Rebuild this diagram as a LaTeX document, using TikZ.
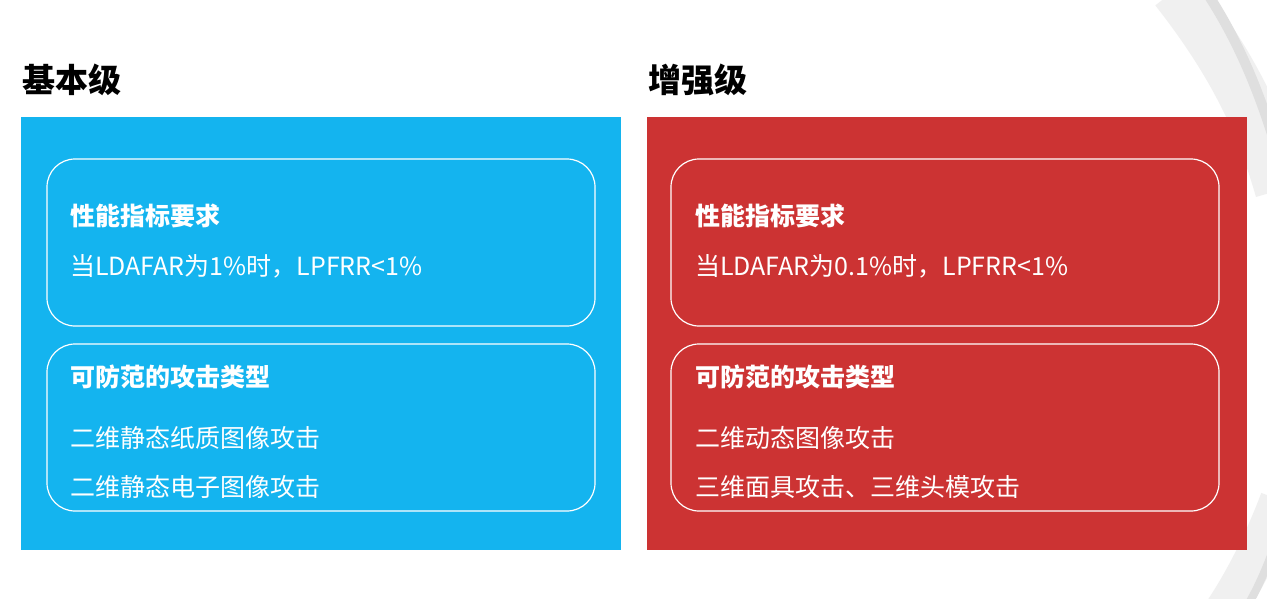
\documentclass[tikz,border=0pt]{standalone}
\usepackage{fontspec}
\setmainfont{Noto Sans CJK SC}
\definecolor{cblue}{HTML}{14B4EF}
\definecolor{cred}{HTML}{CC3333}
\tikzset{x=1pt,y=-1pt,
 panel/.style={draw=none},
 inner/.style={draw=white,line width=1.2pt,rounded corners=28pt},
 ttl/.style={anchor=west,font=\fontsize{33}{33}\selectfont\bfseries,text=black,inner sep=0},
 hd/.style={anchor=west,font=\fontsize{25}{25}\selectfont\bfseries,text=white,inner sep=0},
 bd/.style={anchor=west,font=\fontsize{25}{25}\selectfont,text=white,inner sep=0}}
\begin{document}
\begin{tikzpicture}
\useasboundingbox (0,0) rectangle (1267,598);
\fill[white] (0,0) rectangle (1267,598);
% decorative arcs
\draw[gray!12,line width=50pt] (1175,-10) .. controls (1230,60) and (1260,120) .. (1280,190);
\draw[gray!25,line width=10pt] (1205,-10) .. controls (1245,50) and (1265,110) .. (1280,160);
\draw[gray!12,line width=40pt] (1225,610) .. controls (1245,580) and (1265,540) .. (1280,500);
\draw[gray!25,line width=8pt] (1245,610) .. controls (1260,585) and (1270,560) .. (1280,530);
% panels
\fill[cblue] (21,117) rectangle (621,550);
\fill[cred] (647,117) rectangle (1247,550);
\node[ttl] (t1) at (22,80) {基本级};
\node[ttl] (t2) at (648,80) {增强级};
\draw[inner] (47,159) rectangle (595,326);
\draw[inner] (47,344) rectangle (595,511);
\draw[inner] (671,159) rectangle (1219,326);
\draw[inner] (671,344) rectangle (1219,511);
\node[hd] (h1) at (70,216) {性能指标要求};
\node[bd] (b1) at (70,266) {当LDAFAR为1\%时，LPFRR<1\%};
\node[hd] (h2) at (70,377) {可防范的攻击类型};
\node[bd] (b2) at (70,438) {二维静态纸质图像攻击};
\node[bd] (b3) at (70,487) {二维静态电子图像攻击};
\node[hd] (h3) at (695,216) {性能指标要求};
\node[bd] (b4) at (695,266) {当LDAFAR为0.1\%时，LPFRR<1\%};
\node[hd] (h4) at (695,377) {可防范的攻击类型};
\node[bd] (b5) at (695,438) {二维动态图像攻击};
\node[bd] (b6) at (695,487) {三维面具攻击、三维头模攻击};
\end{tikzpicture}
\end{document}
